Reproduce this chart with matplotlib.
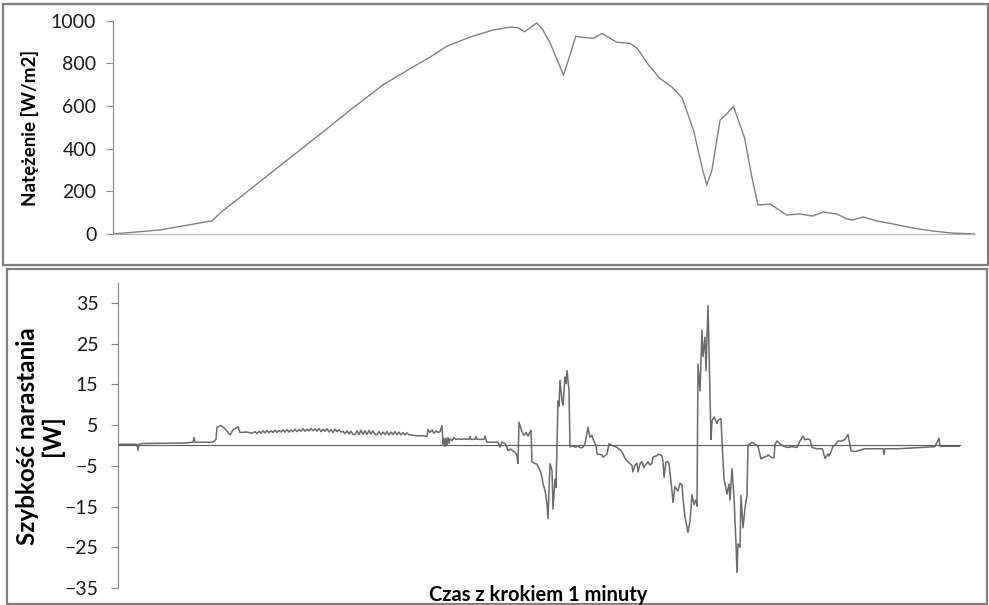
import matplotlib.pyplot as plt
from matplotlib.patches import Rectangle

# Irradiance over the day (minute index, W/m2)
irr_min = [0, 46, 97, 105, 183, 212, 234, 264, 293, 310,
           326, 349, 371, 388, 395, 402, 414, 420, 427, 434,
           440, 447, 452, 459, 469, 478, 492, 505, 512, 522,
           534, 546, 556, 567, 576, 580, 585, 593, 600, 606,
           617, 624, 630, 642, 658, 671, 683, 694, 707, 717,
           723, 733, 746, 762, 781, 801, 818, 842]
irr_val = [0, 19, 62, 100, 395, 505, 590, 700, 783, 830,
           880, 924, 956, 970, 968, 948, 990, 956, 895, 815,
           745, 848, 927, 922, 917, 940, 899, 894, 871, 800,
           730, 689, 637, 487, 300, 230, 300, 534, 566, 599,
           449, 267, 136, 140, 89, 94, 84, 103, 94, 70,
           66, 80, 61, 47, 28, 14, 5, 0]

# Rate of change of power (minute index, W)
rate_min = [0, 17, 19, 20, 21, 25, 67, 75, 76, 77, 95, 98,
            99, 103, 107, 112, 115, 120, 122, 129, 134,
            137, 139, 141, 143, 145, 147, 149, 151, 153, 155, 157, 159, 161, 163, 165, 167,
            169, 171, 173, 175, 177, 179, 181, 183, 185, 187, 189, 191, 193, 195, 197,
            199, 201, 203, 205, 207, 209, 211, 213, 215, 217, 219, 221, 223, 225,
            227, 229, 231, 233, 235, 237, 239, 241, 243, 245, 247, 249, 251, 253, 255, 257,
            259, 261, 263, 265, 267, 269, 271, 273, 275, 277, 279, 281, 283, 285, 287, 289,
            291, 293, 295, 299, 305, 309,
            310, 312, 314, 316, 318, 320, 322, 324, 325, 326, 327, 328, 329, 330, 331, 332,
            334, 336, 338, 340, 343, 346, 351, 352, 353, 357, 358, 359, 366, 367, 368, 369, 380,
            382, 384, 387, 389, 390, 393, 395, 397, 399, 400, 401, 404, 406, 408, 410, 412,
            413, 414, 419, 422, 424, 425, 427, 429, 430, 431, 432, 434, 435, 437, 438, 440,
            441, 442, 444, 445, 447, 448, 449, 451, 452, 454, 457, 460, 463, 465, 467, 470,
            472, 474, 475, 478, 479, 484, 485, 489, 491, 494, 497,
            502, 505, 507, 510, 514, 515, 517, 519, 520, 522, 524, 526, 527, 529, 530, 532,
            534, 535, 539, 540, 544, 545, 546, 548, 550, 551, 554, 555, 557, 560, 562, 564,
            565, 567, 570, 572, 574, 576, 578, 579, 580, 582, 584, 585, 587, 588, 590, 593,
            594, 596, 599, 600, 603, 604, 606, 609, 611, 612, 614, 616, 618, 619, 620, 622,
            623, 625, 627, 629, 630, 634, 637, 640,
            643, 645, 649, 650, 654, 656, 657, 659, 661, 664, 669, 674, 679, 682, 685, 687,
            690, 692, 694, 699, 704, 705, 707, 710, 711, 713, 715, 717, 720, 724, 727, 730,
            731, 733, 737, 740, 747, 765, 766, 767, 780, 817, 821, 822, 842]
rate_val = [0.3, 0.3, 0.3, -1.2, 0.3, 0.5, 0.6, 0.8, 2.0, 0.8, 0.8, 1.5,
            4.5, 4.9, 4.1, 2.6, 3.8, 4.6, 3.2, 3.3, 3.0,
            3.4, 2.9, 3.5, 3.0, 3.6, 3.1, 3.7, 3.1, 3.6, 3.2, 3.8, 3.2, 3.7, 3.3, 3.8, 3.3,
            3.9, 3.3, 3.8, 3.4, 4.0, 3.4, 3.9, 3.5, 4.1, 3.5, 4.0, 3.6, 4.2, 3.6, 4.1,
            3.5, 4.2, 3.4, 4.0, 3.5, 4.1, 3.3, 3.9, 3.2, 4.0, 3.4, 3.9, 3.3, 3.5,
            2.9, 3.6, 2.8, 3.5, 2.7, 2.7, 3.6, 2.7, 3.7, 2.8, 3.6, 2.7, 3.7, 2.8, 3.6, 2.7,
            2.7, 3.4, 2.6, 3.3, 2.7, 3.4, 2.6, 3.3, 2.7, 3.4, 2.6, 3.3, 2.6, 3.2, 2.6, 3.1,
            2.6, 2.6, 2.5, 2.4, 2.4, 2.2,
            3.9, 3.2, 3.8, 3.0, 3.6, 3.2, 3.4, 4.9, 0.3, 1.7, -0.2, 1.8, 0.2, 1.9, 0.5, 1.6,
            1.2, 1.9, 1.5, 1.6, 1.5, 1.6, 1.5, 2.2, 1.5, 1.5, 2.2, 1.5, 1.5, 2.3, 1.5, 0.8, 0.8,
            -0.4, 0.8, 0.5, -0.4, -1.2, -0.9, -1.4, -1.6, -2.5, -4.4, 5.7, 3.3, 2.5, 3.2, 2.3, 3.3,
            3.7, -4.1, -4.6, -6.1, -7.8, -9.4, -11.0, -14.4, -18.0, -11.0, -4.5, -6.1, -15.6, -8.3, -10.3, 10.9,
            9.7, 16.0, 10.9, 9.9, 16.8, 15.2, 18.4, 13.4, -0.4, 0.0, -0.4, -0.2, -0.6, -0.4, 0.4, 4.5,
            2.0, 2.5, 1.6, 0.0, -2.1, -2.3, -2.9, -2.1, 0.4, 0.0, -0.2,
            -1.0, -2.0, -3.2, -4.0, -4.9, -6.5, -4.8, -4.4, -6.5, -4.5, -4.0, -5.5, -4.9, -4.4, -4.0, -4.8,
            -4.4, -2.8, -2.5, -2.1, -2.5, -4.0, -7.8, -4.0, -4.0, -4.5, -11.2, -14.0, -10.1, -11.2, -9.3, -9.7,
            -13.0, -17.6, -21.3, -18.6, -12.1, -14.5, -13.3, -14.9, 20.0, 13.4, 28.3, 21.8, 26.6, 18.4, 34.4, 1.5,
            6.0, 7.0, 5.4, 6.2, 6.6, 1.0, -8.2, -11.9, -9.5, -13.4, -5.7, -12.6, -24.2, -31.2, -24.2, -25.0,
            -12.3, -20.2, -15.3, -12.3, 0.0, 0.8, 0.3, -0.2,
            -3.3, -3.0, -2.6, -2.3, -3.0, -3.0, 0.3, 1.1, 0.6, 0.0, -0.5, -0.3, -0.5, 1.1, 2.3, 1.4,
            1.6, 1.4, -0.5, -0.8, -0.8, -1.3, -3.2, -2.1, -2.6, -1.5, -0.2, 0.0, 1.1, 1.1, 1.5, 2.7,
            1.4, -1.3, -1.5, -1.3, -0.8, -0.8, -2.2, -0.8, -0.8, -0.3, 1.8, -0.2, -0.2]

irr_ticks = [0, 200, 400, 600, 800, 1000]
rate_ticks = [-35, -25, -15, -5, 5, 15, 25, 35]

plt.rcParams['font.family'] = ['Lato', 'DejaVu Sans']

W, H = 989, 605
fig = plt.figure(figsize=(W / 100, H / 100), dpi=100)

# panel borders
fig.patches.append(Rectangle((3 / W, 1 - 265 / H), 985 / W, 261 / H, transform=fig.transFigure,
                             fill=False, ec='#7f7f7f', lw=1.6))
fig.patches.append(Rectangle((7 / W, 1 - 604 / H), 980 / W, 335 / H, transform=fig.transFigure,
                             fill=False, ec='#7f7f7f', lw=1.6))

# top: irradiance
ax1 = fig.add_axes([113 / W, 1 - 234 / H, 862 / W, 213.3 / H])
ax1.plot(irr_min, irr_val, color='#808080', lw=1.0)
ax1.set_xlim(0, 842)
ax1.set_ylim(0, 1000)
ax1.set_yticks(irr_ticks)
ax1.set_xticks([])
for s in ['top', 'right']:
    ax1.spines[s].set_visible(False)
ax1.spines['left'].set_color('#868686')
ax1.spines['bottom'].set_color('#b0b0b0')
ax1.tick_params(axis='y', direction='out', length=5, color='#868686',
                labelsize=14, labelcolor='#1a1a1a', pad=7)

# bottom: rate of change
ax2 = fig.add_axes([118 / W, 17 / H, 842 / W, 305.4 / H])
ax2.plot(rate_min, rate_val, color='#6a6a6a', lw=1.1)
ax2.set_xlim(0, 842)
ax2.set_ylim(-35, 40)
ax2.set_yticks(rate_ticks)
ax2.set_xticks([])
for s in ['top', 'right']:
    ax2.spines[s].set_visible(False)
ax2.spines['left'].set_color('#868686')
ax2.spines['bottom'].set_position(('data', 0))
ax2.spines['bottom'].set_color('#5a5a5a')
ax2.tick_params(axis='y', direction='out', length=5, color='#868686',
                labelsize=14, labelcolor='#1a1a1a', pad=9)

fig.text(30 / W, 1 - 128 / H, 'Natężenie [W/m2]', rotation=90, ha='center', va='center',
         fontsize=13.5, fontweight='bold')
fig.text(40 / W, 1 - 436 / H, 'Szybkość narastania\n[W]', rotation=90, ha='center', va='center',
         multialignment='center', fontsize=17.5, fontweight='bold', linespacing=1.05)
fig.text(538 / W, 1 - 595 / H, 'Czas z krokiem 1 minuty', ha='center', va='center',
         fontsize=14.5, fontweight='bold')

plt.savefig('out.png', dpi=100)
